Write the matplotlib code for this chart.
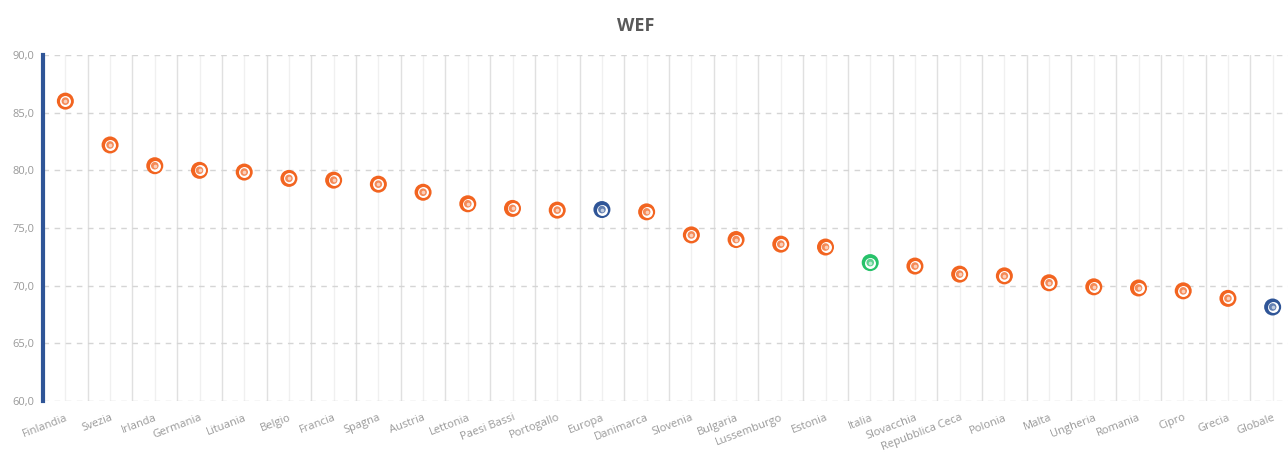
import matplotlib
matplotlib.use("Agg")
import matplotlib.pyplot as plt

categories = ["Finlandia", "Svezia", "Irlanda", "Germania", "Lituania", "Belgio", "Francia",
              "Spagna", "Austria", "Lettonia", "Paesi Bassi", "Portogallo", "Europa", "Danimarca",
              "Slovenia", "Bulgaria", "Lussemburgo", "Estonia", "Italia", "Slovacchia",
              "Repubblica Ceca", "Polonia", "Malta", "Ungheria", "Romania", "Cipro", "Grecia",
              "Globale"]
values = [86.0, 82.2, 80.4, 80.0, 79.85, 79.3, 79.15, 78.8, 78.1, 77.1, 76.7, 76.55, 76.6,
          76.4, 74.4, 74.0, 73.6, 73.35, 72.0, 71.7, 71.0, 70.85, 70.25, 69.9, 69.8, 69.55,
          68.9, 68.15]
yticks = [60, 65, 70, 75, 80, 85, 90]

ORANGE = "#F26420"
BLUE = "#2F5597"
GREEN = "#27C26A"
colors = [BLUE if c in ("Europa", "Globale") else GREEN if c == "Italia" else ORANGE
          for c in categories]

plt.rcParams['font.family'] = ['Open Sans', 'DejaVu Sans']
fig = plt.figure(figsize=(12.88, 4.59), dpi=100)
W, H = 1288, 459
ax = fig.add_axes([43/W, 58/H, (1295-43)/W, 346/H])

x = list(range(len(categories)))
ax.set_xlim(-0.5, len(categories) - 0.5)
ax.set_ylim(60, 90)

# grid
for i in x:
    ax.axvline(i, color="#F0F0F0", lw=1.0, zorder=0)
    ax.axvline(i + 0.5, color="#E0E0E0", lw=1.0, zorder=0)
for yv in yticks:
    ax.axhline(yv, color="#D5D5D5", lw=1.0, ls=(0, (4, 4)), zorder=0.5)

ax.scatter(x, values, s=150, c=colors, zorder=3, linewidths=0)
ax.scatter(x, values, s=62, c="white", zorder=4, linewidths=0)
ax.scatter(x, values, s=30, c=colors, alpha=0.75, zorder=5, linewidths=0)
ax.scatter(x, values, s=7, c="white", alpha=0.6, zorder=6, linewidths=0)

for s in ["top", "right", "bottom"]:
    ax.spines[s].set_visible(False)
ax.spines["left"].set_color(BLUE)
ax.spines["left"].set_linewidth(3)

ax.set_yticks(yticks)
ax.set_yticklabels([f"{v:.1f}".replace(".", ",") for v in yticks], color="#999999", fontsize=8)
ax.tick_params(axis="y", length=0, pad=6)
ax.set_xticks(x)
ax.set_xticklabels(categories, rotation=21, ha="right", rotation_mode="anchor",
                   color="#999999", fontsize=8)
ax.tick_params(axis="x", length=0, pad=8)

fig.text(636/W, 1 - 26/H, "WEF", ha="center", va="center", fontsize=13,
         fontweight="bold", color="#595959")

fig.savefig("out.png", dpi=100)
